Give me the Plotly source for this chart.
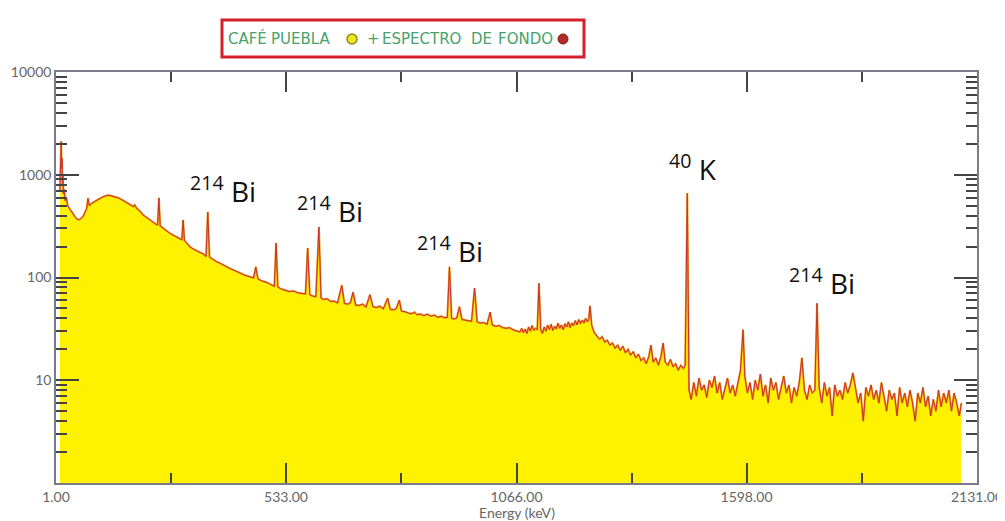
import plotly.graph_objects as go

# ---------------- data ----------------
# low-energy part of the spectrum (keV, counts)
energy_low = [10, 11, 12, 13, 14, 15, 16, 17, 18, 20, 22, 25, 28, 32, 36, 40, 45, 50, 55, 60,
              64, 68, 72, 75, 78, 84, 90, 96, 102, 108, 114, 120, 126, 132, 138, 144, 150, 156,
              162, 168, 174, 180, 183, 188, 192, 196, 202, 208, 214, 220, 226, 232, 236, 239,
              242, 248, 256, 264, 272, 280, 288, 292, 295, 298, 305, 311, 318, 326, 334, 342,
              348, 352, 356, 364, 372, 380, 388, 396, 404, 412, 420, 428, 436, 444, 452, 458,
              463, 468, 476, 484, 490, 496, 503, 506, 510, 514]
counts_low = [700, 1350, 900, 2100, 1150, 1450, 800, 1000, 650, 720, 560, 600, 500, 470, 440, 415, 390, 368, 365, 380,
              395, 430, 470, 590, 500, 530, 550, 570, 590, 605, 620, 632, 628, 618, 612, 598, 582, 562,
              548, 530, 510, 490, 510, 468, 455, 440, 408, 390, 375, 362, 345, 330, 325, 595,
              318, 303, 285, 270, 258, 246, 236, 233, 363, 230, 212, 198, 190, 182, 176, 169,
              160, 433, 158, 150, 143, 138, 132, 126, 122, 118, 113, 110, 106, 103, 101, 99,
              127, 97, 93, 91, 89, 86, 83, 82, 217, 81]

# middle part
energy_mid = [520, 530, 540, 550, 560, 570, 578, 583, 588, 595, 602, 609, 614, 620, 628, 636, 644, 652,
              662, 668, 676, 682, 688, 694, 702, 710, 718, 727, 734, 742, 750, 758, 768, 774, 782, 788,
              795, 800, 808, 816, 824, 830, 836, 844, 852, 860, 868, 876, 884, 892, 900, 906, 911, 916,
              922, 928, 934, 940, 948, 956, 962, 969, 975, 982, 990, 998, 1005, 1010, 1018, 1026, 1034,
              1042, 1050, 1058, 1066, 1074, 1078, 1082, 1086, 1090, 1094, 1098, 1102, 1106, 1110, 1114,
              1118, 1122, 1126, 1130, 1134, 1138, 1142, 1146, 1150, 1154, 1158, 1162, 1166, 1170, 1174,
              1178, 1182, 1186, 1190, 1194, 1198, 1202, 1206, 1210, 1214, 1218, 1222, 1226, 1230, 1233,
              1236]
counts_mid = [78, 76, 73, 74, 71, 70, 69, 194, 68, 66, 65, 310, 63, 61, 62, 58.5, 59, 56.5,
              84, 56, 55, 57, 72, 54, 53.5, 55, 51.5, 68, 52, 51, 52.5, 49.5, 63, 49, 48.5, 50,
              60, 47, 46.5, 45, 44.5, 46, 43.5, 44, 42.5, 44, 42, 43, 41, 42, 40.5, 41, 127, 40,
              39.5, 40.5, 52, 39, 38.5, 38, 37.5, 79, 37, 36, 36.5, 35, 46, 34.5, 33.5, 34, 32.5,
              32, 32.5, 31, 30.5, 29.5, 32, 29, 31.5, 28.5, 33, 30, 34, 30.5, 32, 31,
              88, 31, 28.5, 33, 30, 34.5, 31, 35, 30.5, 33.5, 31.5, 36, 32, 34.5, 31,
              35.5, 33, 37, 32.5, 36, 34, 38, 34.5, 39, 35.5, 38.5, 36, 40, 37, 39,
              53]

# high-energy part
energy_high = [1240, 1246, 1252, 1258, 1264, 1270, 1276, 1282, 1288, 1294, 1300, 1306, 1312, 1318, 1324,
               1330, 1336, 1342, 1348, 1354, 1360, 1366, 1372, 1377, 1382, 1388, 1394, 1400, 1405, 1410,
               1416, 1422, 1428, 1434, 1440, 1446, 1452, 1456, 1461, 1465, 1470, 1476, 1482, 1488, 1494,
               1500, 1506, 1512, 1518, 1524, 1530, 1536, 1542, 1548, 1554, 1560, 1566, 1572, 1578, 1584,
               1590, 1594, 1600, 1606, 1612, 1618, 1624, 1630, 1636, 1642, 1648, 1654, 1660, 1666, 1672,
               1678, 1684, 1690, 1696, 1702, 1708, 1714, 1720, 1726, 1732, 1738, 1744, 1750, 1756, 1761,
               1766, 1772, 1778, 1784, 1790, 1796, 1802, 1808, 1814, 1820, 1826, 1832, 1838, 1844, 1850,
               1856, 1862, 1868, 1874, 1880, 1886, 1892, 1898, 1904, 1910, 1916, 1922, 1928, 1934, 1940,
               1946, 1952, 1958, 1964, 1970, 1976, 1982, 1988, 1994, 2000, 2006, 2012, 2018, 2024, 2030,
               2036, 2042, 2048, 2054, 2060, 2066, 2072, 2078, 2084, 2090, 2095]
counts_high = [34, 29, 27, 25, 26.5, 23.5, 24.5, 22, 23, 20.5, 22, 19.5, 21.5, 18.5, 20,
               17.5, 19, 16.5, 18, 15.5, 16.5, 14.5, 17, 22, 15, 16.5, 14, 17, 23, 15,
               14, 16, 13.5, 14.5, 12.5, 14, 13, 14, 660, 8, 6.5, 9.5, 7, 10.5, 8,
               9, 6.8, 10, 8.5, 11, 7.5, 9.5, 6.5, 8.5, 10.5, 7.5, 9, 7, 9.5, 12.5,
               31, 11, 7.5, 9.5, 6.5, 10, 8, 11.5, 7, 9, 6, 10.5, 8, 9.5, 6.5,
               8.5, 11, 7.5, 9, 6, 8.5, 7, 9.5, 16.5, 8, 6.5, 9, 7.5, 8, 56,
               8.5, 6, 9.5, 7, 8.5, 4.5, 9, 7, 8, 6.5, 9.5, 7.5, 9, 11.8, 8.5,
               6, 7.5, 4, 8.5, 7, 9, 6.5, 8, 6, 9.5, 7, 5, 8, 6.5, 7.5,
               4.5, 8.5, 6, 7.5, 5.5, 8, 6, 4, 7.5, 6, 8.5, 5.5, 7, 4.5, 6.5,
               5, 8, 5.5, 7.5, 6, 8, 5, 7.5, 6, 4.5, 6]

x_tick_vals = [1, 533, 1066, 1598, 2131]
x_tick_text = ["1.00", "533.00", "1066.00", "1598.00", "2131.00"]
x_minor_vals = [267, 799.5, 1332, 1864.5]
y_tick_vals = [10, 100, 1000, 10000]
y_tick_text = ["10", "100", "1000", "10000"]
y_minor_vals = [m * d for d in (1, 10, 100, 1000) for m in range(2, 10)]
x_title = "Energy (keV)"

peak_labels = ["<sup>214</sup> Bi", "<sup>214</sup> Bi", "<sup>214</sup> Bi", "<sup>40</sup> K", "<sup>214</sup> Bi"]
legend_words = ["CAFÉ", "PUEBLA", "+", "ESPECTRO", "DE", "FONDO"]

energy = energy_low + energy_mid + energy_high
cafe_counts = counts_low + counts_mid + counts_high

# ---------------- figure ----------------
# the page body adds an 8 px offset; target positions below are in screenshot pixels
OFF = 8
W, H = 1005 - OFF, 521 - OFF
L, R, T, B = 56, 977, 72, 483


def px(xpix):
    return (xpix - L) / (R - L)


def py(ypix):
    return (B - ypix) / (B - T)


fig = go.Figure()
fig.add_trace(go.Scatter(x=energy, y=cafe_counts, mode="lines", fill="tozeroy",
                         fillcolor="#fff200", line=dict(color="#f39a1c", width=2),
                         name="CAFÉ PUEBLA", showlegend=False, hoverinfo="skip"))
fig.add_trace(go.Scatter(x=energy, y=cafe_counts, mode="lines",
                         line=dict(color="#c8342a", width=1),
                         name="ESPECTRO DE FONDO", showlegend=False, hoverinfo="skip"))

x_font = dict(family="Lato", size=14, color="#666666")
y_font = dict(family="Lato", size=14, color="#666666")

fig.update_xaxes(range=[1, 2131], tickmode="array", tickvals=x_tick_vals, ticktext=x_tick_text,
                 ticks="inside", ticklen=20, tickwidth=1.5, tickcolor="#444444",
                 minor=dict(tickvals=x_minor_vals, ticks="inside", ticklen=10, tickwidth=1.5,
                            tickcolor="#444444", showgrid=False),
                 showline=True, linecolor="#7a7a8a", linewidth=1.5, mirror="ticks",
                 showgrid=False, zeroline=False, tickfont=x_font, automargin=False,
                 ticklabeloverflow="allow")
fig.update_yaxes(type="log", range=[0, 4], tickmode="array", tickvals=y_tick_vals, ticktext=y_tick_text,
                 ticks="inside", ticklen=23, tickwidth=1.5, tickcolor="#444444",
                 minor=dict(tickvals=y_minor_vals, ticks="inside", ticklen=11, tickwidth=1.5,
                            tickcolor="#444444", showgrid=False),
                 showline=True, linecolor="#7a7a8a", linewidth=1.5, mirror="ticks",
                 showgrid=False, zeroline=False, tickfont=y_font, automargin=False,
                 ticklabeloverflow="allow")

# x axis title
fig.add_annotation(x=px(517), y=py(512), xref="paper", yref="paper", text=x_title, showarrow=False,
                   xanchor="center", yanchor="middle", font=x_font)

# peak labels
label_pos = [(223, 189), (330, 209), (450, 249), (693, 167), (822, 281)]
for txt, (xx, yy) in zip(peak_labels, label_pos):
    fig.add_annotation(x=px(xx), y=py(yy), xref="paper", yref="paper", text=txt, showarrow=False,
                       font=dict(family="Open Sans", size=28, color="#111111"),
                       xanchor="center", yanchor="middle")

# legend box drawn like the original
fig.add_shape(type="rect", xref="paper", yref="paper", x0=px(222), x1=px(584), y0=py(57), y1=py(20),
              line=dict(color="#d4202c", width=3), fillcolor="white")
word_x = [227, 270, 366, 381, 470, 497]
for word, wx in zip(legend_words, word_x):
    fig.add_annotation(x=px(wx), y=py(39), xref="paper", yref="paper", text=word, showarrow=False,
                       xanchor="left", yanchor="middle", borderpad=0,
                       font=dict(family="DejaVu Sans", size=15, color="#46a36c"))
fig.add_shape(type="circle", xref="paper", yref="paper", x0=px(347), x1=px(357), y0=py(44), y1=py(34),
              line=dict(color="#8a8a20", width=1.5), fillcolor="#f0e81a")
fig.add_shape(type="circle", xref="paper", yref="paper", x0=px(558), x1=px(568), y0=py(44), y1=py(34),
              line=dict(color="#8a1a1a", width=1), fillcolor="#b02a2a")

fig.update_layout(width=W, height=H, autosize=False,
                  margin=dict(l=L - OFF, r=W - (R - OFF), t=T - OFF, b=H - (B - OFF)),
                  plot_bgcolor="white", paper_bgcolor="white", showlegend=False)

fig.write_html("out.html")
